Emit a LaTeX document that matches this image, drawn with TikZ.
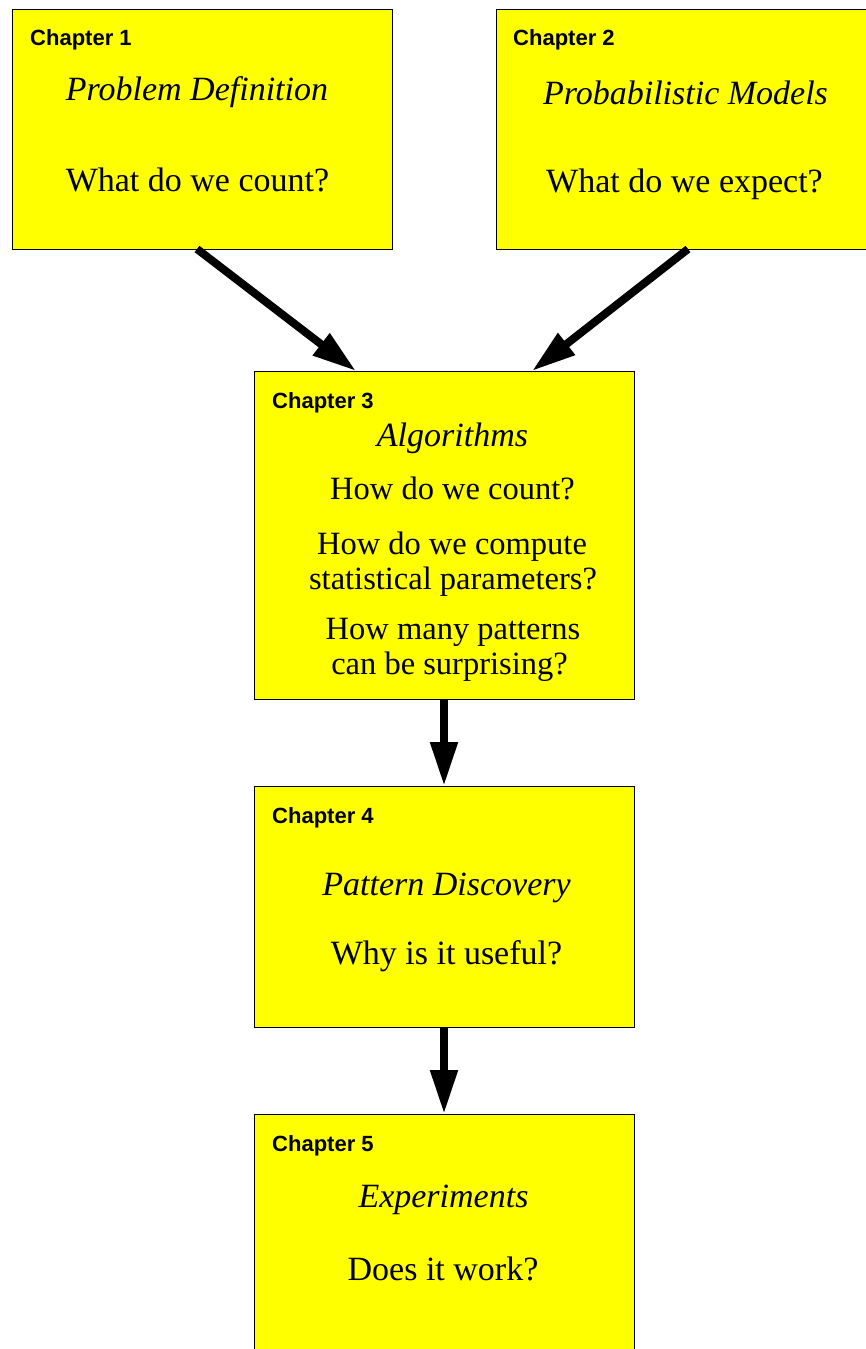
\documentclass[tikz,border=0pt]{standalone}
\usepackage{fontspec}
\setmainfont{Liberation Serif}
\newfontfamily\chapfont{Liberation Sans}
\usetikzlibrary{arrows.meta}
\definecolor{boxyellow}{RGB}{255,255,0}
\tikzset{
  box/.style={draw=black, line width=1pt, fill=boxyellow, anchor=north west, outer sep=0pt, inner sep=0pt},
  chap/.style={anchor=base west, inner sep=0pt, font=\chapfont\bfseries\fontsize{22}{26}\selectfont},
  ser/.style={anchor=base, inner sep=0pt, font=\fontsize{34}{40}\selectfont},
  sers/.style={anchor=base, inner sep=0pt, font=\fontsize{32.5}{38}\selectfont},
  arr/.style={line width=8pt, -{Triangle[length=44pt, width=26pt]}, draw=black}
}
\begin{document}
\begin{tikzpicture}[x=1pt, y=1pt]
\useasboundingbox (0,0) rectangle (866,-1349);
% boxes
\node[box, minimum width=380pt, minimum height=240pt] (b1) at (12,-9) {};
\node[box, minimum width=371pt, minimum height=240pt] (b2) at (496,-9) {};
\node[box, minimum width=380pt, minimum height=328pt] (b3) at (254,-371) {};
\node[box, minimum width=380pt, minimum height=241pt] (b4) at (254,-786) {};
\node[box, minimum width=380pt, minimum height=240pt] (b5) at (254,-1114) {};
% box 1
\node[chap] (c1) at (30,-45) {Chapter 1};
\node[ser] (t1a) at (197,-100) {\itshape Problem Definition};
\node[ser] (t1b) at (197.5,-191) {What do we count?};
% box 2
\node[chap] (c2) at (513,-45) {Chapter 2};
\node[ser] (t2a) at (685.5,-104) {\itshape Probabilistic Models};
\node[ser] (t2b) at (684.5,-192) {What do we expect?};
% box 3
\node[chap] (c3) at (272,-408) {Chapter 3};
\node[ser] (t3a) at (452.5,-446) {\itshape Algorithms};
\node[sers] (t3b) at (452.5,-499) {How do we count?};
\node[sers] (t3c) at (452,-554) {How do we compute};
\node[sers] (t3d) at (453,-589) {statistical parameters?};
\node[sers] (t3e) at (453,-639) {How many patterns};
\node[sers] (t3f) at (449.5,-674) {can be surprising?};
% box 4
\node[chap] (c4) at (272,-823) {Chapter 4};
\node[ser] (t4a) at (446.5,-895) {\itshape Pattern Discovery};
\node[ser] (t4b) at (446.5,-964) {Why is it useful?};
% box 5
\node[chap] (c5) at (272,-1151) {Chapter 5};
\node[ser] (t5a) at (443.5,-1207) {\itshape Experiments};
\node[ser] (t5b) at (443,-1280) {Does it work?};
% connectors
\draw[arr] ([xshift=185pt]b1.south west) -- ([xshift=102pt]b3.north west);
\draw[arr] ([xshift=192pt]b2.south west) -- ([xshift=278pt]b3.north west);
\draw[arr] (b3.south) -- (b4.north);
\draw[arr] (b4.south) -- (b5.north);
\end{tikzpicture}
\end{document}
